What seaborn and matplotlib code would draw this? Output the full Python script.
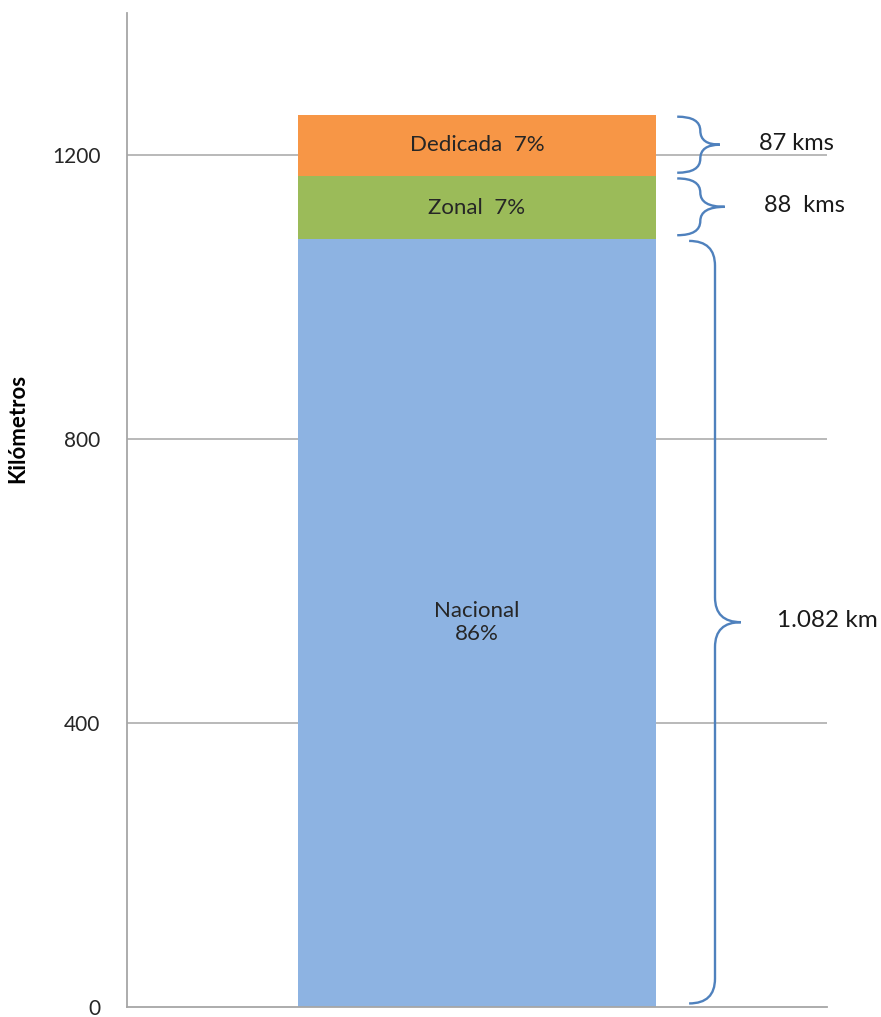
import matplotlib
matplotlib.use("Agg")
import matplotlib.pyplot as plt
import matplotlib.transforms as mtransforms
from matplotlib.path import Path
from matplotlib.patches import PathPatch
import seaborn as sns
import pandas as pd

# ---- data ----
categories = ["Nacional", "Zonal", "Dedicada"]
values = [1082, 88, 87]
bar_labels = ["Nacional\n86%", "Zonal  7%", "Dedicada  7%"]
brace_labels = ["1.082 km", "88  kms", "87 kms"]
colors = ["#8DB3E2", "#9BBB59", "#F79646"]
yticks = [0, 400, 800, 1200]

sns.set_theme(style="white")
plt.rcParams["font.family"] = ["Lato", "DejaVu Sans"]

fig = plt.figure(figsize=(8.81, 10.17), dpi=100)
ax = fig.add_axes([127/881, 1-1007/1017, 700/881, (1007-13)/1017])

grid_c = "#A6A6A6"
for t in yticks[1:]:
    ax.axhline(t, color=grid_c, lw=1.1, zorder=0)

bottom = 0
bottoms = []
for cat, v, c in zip(categories, values, colors):
    df = pd.DataFrame({"grupo": ["Red"], "km": [v]})
    sns.barplot(data=df, x="grupo", y="km", color=c, saturation=1, width=0.511,
                bottom=bottom, ax=ax, zorder=2, linewidth=0)
    bottoms.append(bottom)
    bottom += v

ax.set_xlim(-0.5, 0.5)
ax.set_ylim(0, 1400)
ax.set_yticks(yticks)
ax.set_yticklabels([str(t) for t in yticks], fontsize=15, color="#262626")
ax.tick_params(axis="y", length=0, pad=19)
ax.set_xticks([])
ax.set_xlabel("")
ax.set_ylabel("Kilómetros", fontsize=16, fontweight="bold", color="black")
ax.yaxis.set_label_coords(-0.141, 0.5825)

for s in ["top", "right"]:
    ax.spines[s].set_visible(False)
for s in ["left", "bottom"]:
    ax.spines[s].set_color(grid_c)
    ax.spines[s].set_linewidth(1.3)

# labels in bars
for b, v, lab in zip(bottoms, values, bar_labels):
    ax.text(0, b + v/2, lab, ha="center", va="center", fontsize=16,
            color="#262626", linespacing=1.2, zorder=3)

# braces
trans = mtransforms.blended_transform_factory(ax.transAxes, ax.transData)

def brace(b, t, x0, xs, xt, q):
    m = (b + t)/2
    verts = [(x0, t), (xs, t), (xs, t - q),
             (xs, m + q), (xs, m), (xt, m),
             (xs, m), (xs, m - q),
             (xs, b + q), (xs, b), (x0, b)]
    codes = [Path.MOVETO, Path.CURVE3, Path.CURVE3,
             Path.LINETO, Path.CURVE3, Path.CURVE3,
             Path.CURVE3, Path.CURVE3,
             Path.LINETO, Path.CURVE3, Path.CURVE3]
    p = PathPatch(Path(verts, codes), transform=trans, fill=False,
                  edgecolor="#4F81BD", lw=1.7, clip_on=False, zorder=4)
    ax.add_patch(p)

geom = [  # x0, xs, xt (axes fraction), text x
    (0.803, 0.84, 0.877, 0.928),
    (0.786, 0.819, 0.854, 0.91),
    (0.786, 0.819, 0.847, 0.903),
]
sizes = [17.5, 17, 17]
for b, v, lab, (x0, xs, xt, tx), fs in zip(bottoms, values, brace_labels, geom, sizes):
    bb, tt = b + 5, b + v - 3
    q = min(35, (tt - bb)/4)
    brace(bb, tt, x0, xs, xt, q)
    ax.text(tx, (bb + tt)/2 + 2, lab, transform=trans, ha="left", va="center",
            fontsize=fs, color="#1A1A1A")

fig.savefig("out.png", dpi=100)
